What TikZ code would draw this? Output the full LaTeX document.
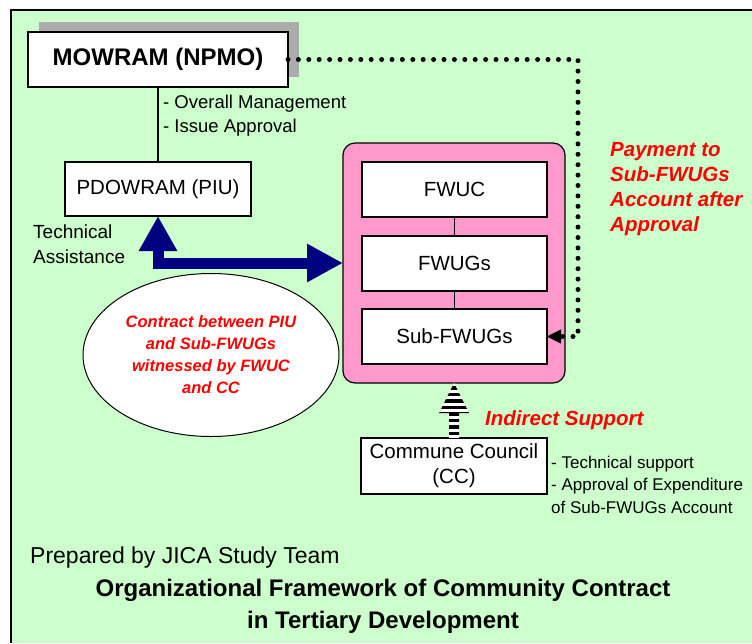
\documentclass[tikz,border=0pt]{standalone}
\usepackage{fontspec}
\setmainfont{Liberation Sans}
\usetikzlibrary{arrows.meta,shapes.geometric,shadows,calc}
\definecolor{bggreen}{RGB}{204,255,204}
\definecolor{boxpink}{RGB}{255,153,204}
\definecolor{navyblue}{RGB}{0,0,128}
\begin{document}
\begin{tikzpicture}[x=1pt,y=-1pt,
  box/.style={draw=black, line width=1.2pt, fill=white, inner sep=0pt, outer sep=0pt, align=center},
  boxtxt/.style={font=\fontsize{20.5}{25}\selectfont},
  redtxt/.style={text=red, font=\fontsize{20.5}{25}\selectfont\bfseries\itshape, align=left},
  txt/.style={align=left, inner sep=0pt}]
\useasboundingbox (0,0) rectangle (752,643);
% background frame
\fill[bggreen] (11,10) rectangle (752,643);
\draw[line width=2pt] (11,643) -- (11,10) -- (752,10);

% MOWRAM
\node[box, minimum width=260pt, minimum height=55pt,
      font=\fontsize{24}{28}\selectfont\bfseries,
      general shadow={fill=gray!65, shadow xshift=11pt, shadow yshift=10pt}]
      (mowram) at (158,59.5) {MOWRAM (NPMO)};
\node[box, boxtxt, minimum width=186pt, minimum height=54pt] (piu) at (158,189) {PDOWRAM (PIU)};
\draw[line width=1.2pt] (mowram.south) -- (piu.north);

% pink group
\node[draw, line width=1.2pt, fill=boxpink, rounded corners=12pt, minimum width=222pt,
      minimum height=240pt, outer sep=0pt] (pink) at (454,263) {};
\node[box, boxtxt, minimum width=185pt, minimum height=55pt] (fwuc) at (454.5,189.5) {FWUC};
\node[box, boxtxt, minimum width=185pt, minimum height=55pt] (fwugs) at (454.5,263.5) {FWUGs};
\node[box, boxtxt, minimum width=185pt, minimum height=55pt] (sub) at (454.5,336.5) {Sub-FWUGs};
\draw[line width=1.2pt] (fwuc.south) -- (fwugs.north);
\draw[line width=1.2pt] (fwugs.south) -- (sub.north);

% blue arrow
\draw[navyblue, line width=11pt,
      {Triangle[width=36pt,length=35pt]}-{Triangle[width=36pt,length=36pt]}]
      (piu.south) |- (pink.west);

% ellipse
\node[ellipse, draw, line width=1pt, fill=white, minimum width=256pt, minimum height=163pt,
      inner sep=0pt, text=red, font=\fontsize{16.5}{22}\selectfont\bfseries\itshape, align=center]
      (contract) at (211,355) {Contract between PIU\\and Sub-FWUGs\\witnessed by FWUC\\and CC};

% commune council
\node[box, font=\fontsize{20.5}{25}\selectfont, minimum width=186pt, minimum height=56pt]
      (cc) at (454,466) {Commune Council\\(CC)};

% striped arrow
\begin{scope}
\path[clip] (pink.south) -- ++(15,30) -- ++(-10,0) -- ($(cc.north)+(5,0)$)
      -- ($(cc.north)+(-5,0)$) -- ($(pink.south)+(-5,30)$) -- ++(-10,0) -- cycle;
\fill[white] ($(pink.south)+(-20,0)$) rectangle ($(cc.north)+(20,0)$);
\foreach \k in {0,...,9} \fill[black] ($(pink.south)+(-20,3+6.5*\k)$) rectangle ++(40,3.5);
\end{scope}

% dotted payment connector
\coordinate (dotx) at (578,0);
\draw[line width=5pt, line cap=round, dash pattern=on 0pt off 10.4pt,
      -{Triangle[length=14pt,width=14pt,line width=0.4pt]}]
      (mowram.east) -| (dotx |- sub.east) -- (sub.east);

% texts
\node[txt, anchor=west, font=\fontsize{18.5}{24}\selectfont] (mgmt) at (163,116) {- Overall Management\\- Issue Approval};
\node[txt, anchor=west, font=\fontsize{19}{25}\selectfont] (ta) at (33,244.5) {Technical\\Assistance};
\node[txt, redtxt, anchor=west] (pay) at (610,189.5) {Payment to\\Sub-FWUGs\\Account after\\Approval};
\node[txt, redtxt, anchor=west] (indirect) at (485,420) {Indirect Support};
\node[txt, anchor=west, font=\fontsize{17}{22.5}\selectfont] (ccnote) at (551,484.5) {- Technical support\\- Approval of Expenditure\\of Sub-FWUGs Account};
\node[txt, anchor=west, font=\fontsize{23}{28}\selectfont] (prep) at (30,558) {Prepared by JICA Study Team};
\node[txt, align=center, font=\fontsize{24}{32}\selectfont\bfseries] (title) at (383,606) {Organizational Framework of Community Contract\\in Tertiary Development};
\end{tikzpicture}
\end{document}
